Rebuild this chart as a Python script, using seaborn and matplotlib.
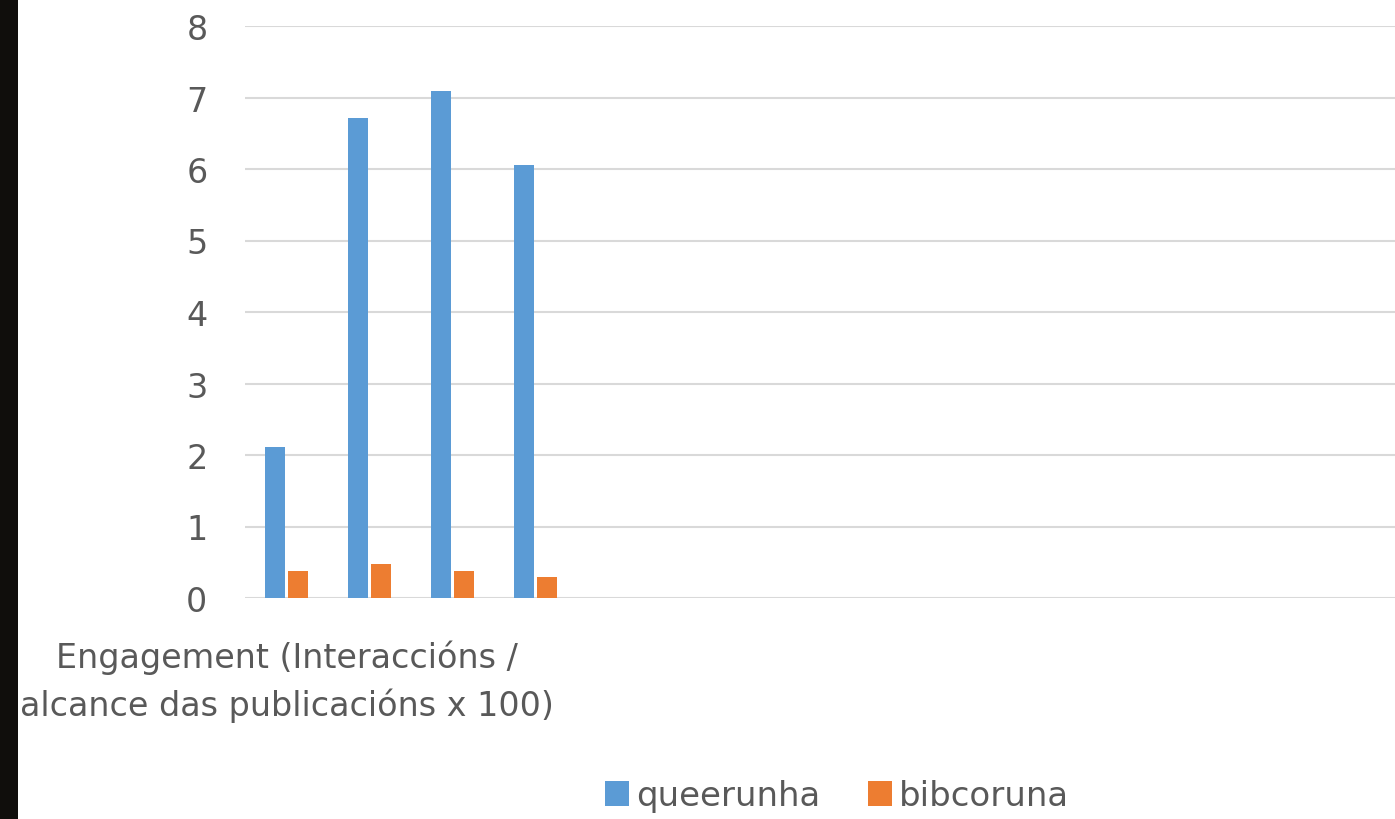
import pandas as pd
import matplotlib.pyplot as plt
import seaborn as sns
from matplotlib.patches import Rectangle, Patch

# data
groups = ["g1", "g2", "g3", "g4"]
queerunha = [2.11, 6.71, 7.09, 6.06]
bibcoruna = [0.38, 0.48, 0.38, 0.29]
series = ["queerunha", "bibcoruna"]
category_label = "Engagement (Interaccións /\nalcance das publicacións x 100)"

colors = {"queerunha": "#5b9bd5", "bibcoruna": "#ed7d31"}
text_color = "#595959"

df = pd.DataFrame({
    "group": groups * 2,
    "value": queerunha + bibcoruna,
    "series": ["queerunha"] * len(groups) + ["bibcoruna"] * len(groups),
})

sns.set_style("white")
plt.rcParams["font.family"] = ["DejaVu Sans"]

fig = plt.figure(figsize=(13.95, 8.2), dpi=100)
ax = fig.add_axes([245 / 1395, 1 - 599 / 820, 1 - 245 / 1395, (599 - 27) / 820])

sns.barplot(data=df, x="group", y="value", hue="series", hue_order=series,
            palette=colors, saturation=1, width=0.55, gap=0.15, ax=ax,
            legend=False, edgecolor="none")

ax.set_xlim(-0.5, 13.36)
ax.set_ylim(0, 8)
ax.set_yticks(range(0, 9))
ax.yaxis.grid(True, color="#d9d9d9", linewidth=1.5)
ax.set_axisbelow(True)
for s in ax.spines.values():
    s.set_visible(False)
ax.axhline(0, color="#d9d9d9", linewidth=1.8, zorder=0)

ax.set_xticks([0])
ax.set_xticklabels([category_label], fontsize=24, color=text_color,
                   linespacing=1.5)
ax.tick_params(axis="x", length=0, pad=30)
ax.tick_params(axis="y", length=0, pad=27, labelsize=24, labelcolor=text_color)
ax.set_xlabel("")
ax.set_ylabel("")

# dark strip on the left edge
fig.patches.append(Rectangle((0, 0), 18 / 1395, 1, transform=fig.transFigure,
                             facecolor="#100e0c", edgecolor="none"))

handles = [Patch(facecolor=colors[s], edgecolor="none") for s in series]
fig.legend(handles, series, loc="center", bbox_to_anchor=(837 / 1395, 1 - 797 / 820),
           ncol=2, frameon=False, fontsize=24.5, labelcolor=text_color,
           handlelength=0.72, handleheight=0.72, handletextpad=0.2, columnspacing=1.4)

fig.savefig("out.png", dpi=100)
